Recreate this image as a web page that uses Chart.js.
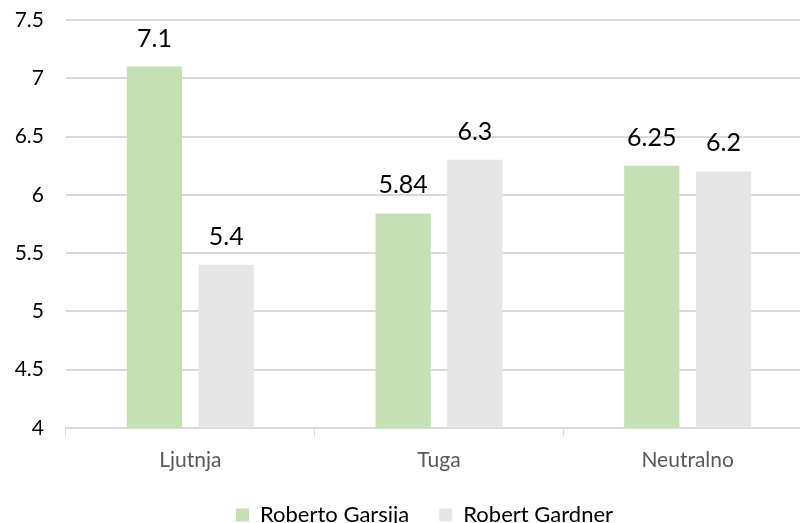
<!DOCTYPE html>
<html>
<head>
<meta charset="utf-8">
<script src="https://cdn.jsdelivr.net/npm/chart.js@4"></script>
<style>
  html, body { margin: 0; padding: 0; background: #fff; overflow: hidden; }
  #wrap { width: 812px; height: 523px; }
</style>
</head>
<body>
<div id="wrap"><canvas id="chart"></canvas></div>
<script>
const categories = ['Ljutnja', 'Tuga', 'Neutralno'];
const garsija = [7.1, 5.84, 6.25];
const gardner = [5.4, 6.3, 6.2];
const seriesNames = ['Roberto Garsija', 'Robert Gardner'];
const yTicks = [4, 4.5, 5, 5.5, 6, 6.5, 7, 7.5];

const FONT = 'Lato, "Noto Sans", sans-serif';

// draw value above each bar
const valueLabels = {
    id: 'valueLabels',
    afterDatasetsDraw(chart) {
        const ctx = chart.ctx;
        ctx.save();
        ctx.font = '25px ' + FONT;
        ctx.fillStyle = '#000';
        ctx.textAlign = 'center';
        ctx.textBaseline = 'alphabetic';
        chart.data.datasets.forEach((ds, i) => {
            chart.getDatasetMeta(i).data.forEach((bar, j) => {
                ctx.fillText(String(ds.data[j]), bar.x, bar.y - 20);
            });
        });
        ctx.restore();
    }
};

// legend sits a little right of centre in the original
const legendShift = {
    id: 'legendShift',
    afterLayout(chart) {
        chart.legend.left += 12;
        chart.legend.right += 12;
    }
};

new Chart(document.getElementById('chart'), {
    type: 'bar',
    data: {
        labels: categories,
        datasets: [
            { label: seriesNames[0], data: garsija, backgroundColor: '#c5e0b4' },
            { label: seriesNames[1], data: gardner, backgroundColor: '#e7e6e6' }
        ]
    },
    options: {
        responsive: true,
        maintainAspectRatio: false,
        animation: false,
        datasets: { bar: { categoryPercentage: 0.577, barPercentage: 0.77 } },
        layout: { padding: { top: 20, left: 13, right: 0, bottom: -13 } },
        scales: {
            x: {
                grid: { drawOnChartArea: false, color: '#d9d9d9', tickLength: 8, offset: true },
                border: { color: '#d9d9d9', width: 2 },
                ticks: { color: '#595959', font: { family: FONT, size: 21 }, padding: 12 },
                afterFit(scale) { scale.height -= 11; }
            },
            y: {
                min: 4,
                max: 7.5,
                afterBuildTicks(axis) { axis.ticks = yTicks.map(v => ({ value: v })); },
                afterFit(scale) {
                    scale.width = 53;
                    scale.paddingTop = 0;
                },
                grid: { color: '#d9d9d9', lineWidth: 2, drawTicks: false },
                border: { display: false },
                ticks: {
                    color: '#000',
                    font: { family: FONT, size: 21 },
                    padding: 22,
                    callback: v => String(v)
                }
            }
        },
        plugins: {
            legend: {
                position: 'bottom',
                labels: {
                    color: '#000',
                    font: { family: FONT, size: 22 },
                    boxWidth: 13,
                    boxHeight: 13,
                    padding: 30
                }
            },
            tooltip: { enabled: false }
        }
    },
    plugins: [valueLabels, legendShift]
});
</script>
</body>
</html>
